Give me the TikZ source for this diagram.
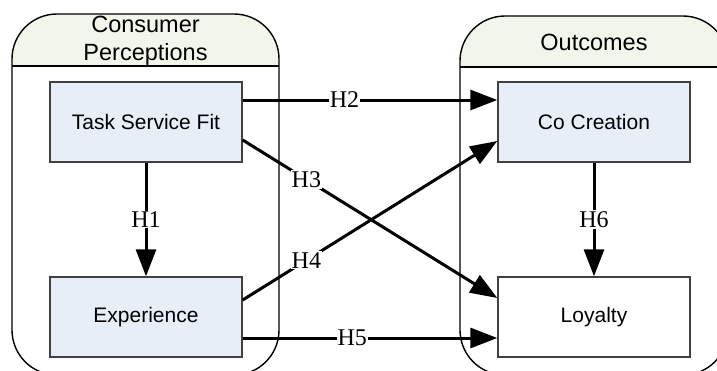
\documentclass[tikz,border=0pt]{standalone}
\usepackage{fontspec}
\setmainfont{Liberation Serif}
\setsansfont{Liberation Sans}
\usetikzlibrary{arrows.meta}
\definecolor{hdfill}{RGB}{242,246,234}
\definecolor{boxfill}{RGB}{232,238,248}
\definecolor{boxline}{RGB}{64,64,64}
\begin{document}
\begin{tikzpicture}[x=1pt,y=-1pt,
    construct/.style={draw=boxline,line width=1.4pt,minimum width=192pt,minimum height=80pt,
        font=\sffamily\fontsize{21}{24}\selectfont},
    header/.style={align=center,font=\sffamily\fontsize{23.5}{28}\selectfont},
    path/.style={line width=3pt,-{Triangle[length=27pt,width=20pt]}},
    hyp/.style={fill=white,inner sep=1pt,font=\fontsize{24}{26}\selectfont}]
    \useasboundingbox (0,0) rectangle (717,370);
    \clip (0,0) rectangle (717,370);

    % containers
    \begin{scope}
        \clip[rounded corners=45pt] (12,14) rectangle (279,375);
        \fill[hdfill] (12,14) rectangle (279,66);
    \end{scope}
    \begin{scope}
        \clip[rounded corners=45pt] (460,16) rectangle (728,375);
        \fill[hdfill] (460,16) rectangle (728,67);
    \end{scope}
    \draw[line width=1.4pt,rounded corners=45pt] (12,14) rectangle (279,375);
    \draw[line width=1.4pt,rounded corners=45pt] (460,16) rectangle (728,375);
    \draw[line width=1.4pt] (12,66) -- (279,66);
    \draw[line width=1.4pt] (460,67) -- (728,67);
    \node[header] (perc) at (145.5,41) {Consumer\\Perceptions};
    \node[header] (outc) at (594,42) {Outcomes};

    % constructs
    \node[construct,fill=boxfill] (tsf) at (146,122) {Task Service Fit};
    \node[construct,fill=boxfill] (exp) at (146,317) {Experience};
    \node[construct,fill=boxfill] (cocr) at (594,122) {Co Creation};
    \node[construct,fill=white] (loy) at (594,317) {Loyalty};

    % hypotheses
    \draw[path] (tsf) -- node[hyp] {H1} (exp);
    \draw[path] ([yshift=22pt]tsf.east) -- node[hyp,pos=0.4] {H2} ([yshift=22pt]cocr.west);
    \draw[path] ([yshift=-18pt]tsf.east) -- node[hyp,pos=0.25] {H3} ([yshift=19pt]loy.west);
    \draw[path] ([yshift=17pt]exp.east) -- node[hyp,pos=0.25] {H4} ([yshift=-19pt]cocr.west);
    \draw[path] ([yshift=-21pt]exp.east) -- node[hyp,pos=0.43] {H5} ([yshift=-21pt]loy.west);
    \draw[path] (cocr) -- node[hyp] {H6} (loy);
\end{tikzpicture}
\end{document}
